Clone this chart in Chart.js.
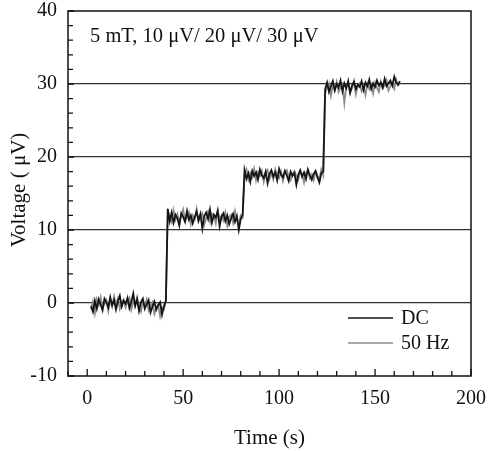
<!DOCTYPE html>
<html>
<head>
<meta charset="utf-8">
<script src="https://cdn.jsdelivr.net/npm/chart.js@4.4.0/dist/chart.umd.min.js"></script>
<style>
  html, body { margin: 0; padding: 0; background: #fff; }
  #wrap { width: 488px; height: 451px; }
</style>
</head>
<body>
<div id="wrap"><canvas id="stepChart"></canvas></div>
<script>
// sampling: one reading per second, starting at t = 2 s
const T_START = 2;
const T_STEP = 1;

// DC excitation trace (uV)
const dcValues = [
    -0.4, -1.2, 0.3, -0.8, 0.5, -0.2, -1.0, 0.6, 0.1, -0.6,
    0.8, -0.3, 0.4, -0.9, 0.2, 1.0, -0.5, 0.3, -0.1, 0.7,
    -0.7, 0.2, 1.3, -0.4, 0.5, -1.1, 0.1, 0.6, -0.8, -0.2,
    0.4, -1.3, -0.5, 0.2, -0.9, -0.3, 0.1, -1.6, -0.4, 0.3,
    12.9, 11.2, 12.4, 11.0, 12.1, 11.6, 10.6, 12.3, 11.8, 11.1,
    12.6, 11.4, 12.0, 10.9, 11.7, 12.5, 11.3, 12.2, 10.2, 11.9,
    12.4, 11.5, 12.8, 11.0, 12.1, 11.7, 12.6, 10.5, 11.8, 12.3,
    11.2, 12.0, 10.8, 11.6, 12.2, 11.1, 11.9, 10.0, 11.5, 12.1,
    18.2, 17.0, 17.8, 16.6, 18.1, 17.4, 17.9, 16.9, 18.3, 17.5,
    17.1, 18.0, 16.4, 17.7, 18.2, 17.3, 17.9, 16.8, 18.4, 17.6,
    17.2, 18.1, 17.5, 16.7, 18.0, 17.4, 17.8, 16.2, 17.6, 18.2,
    17.3, 17.9, 17.0, 18.3, 17.5, 16.9, 17.7, 18.1, 17.2, 16.5,
    17.8, 18.0,
    29.3, 30.2, 28.9, 29.7, 30.4, 29.1, 30.0, 29.5, 30.5, 29.0,
    30.1, 29.4, 30.4, 28.8, 29.8, 30.3, 29.3, 29.9, 29.6, 30.4,
    29.2, 30.2, 29.7, 30.6, 29.3, 30.1, 29.6, 30.5, 29.8, 30.2,
    29.5, 30.7, 29.7, 30.1, 30.5, 29.8, 31.0, 30.2, 29.9, 30.4
];

// 50 Hz excitation trace (uV)
const acValues = [
    -0.9, 0.2, -1.4, 0.5, -0.3, 0.8, -0.7, -0.1, 0.4, -1.1,
    0.3, -0.5, 0.9, -0.2, 0.6, -0.8, 0.1, 0.5, -0.6, 0.2,
    0.7, -0.9, 0.3, -0.4, 0.8, -0.6, -1.2, 0.2, -0.3, 0.5,
    -1.0, -0.4, 0.1, -1.5, -0.7, -0.2, -1.8, -0.6, -0.9, 0.2,
    12.5, 11.8, 11.1, 12.7, 11.4, 12.2, 11.0, 11.9, 12.8, 11.3,
    11.7, 12.4, 10.8, 12.0, 11.5, 12.9, 11.2, 11.8, 12.3, 10.7,
    11.6, 12.5, 11.1, 12.2, 11.9, 10.9, 12.7, 11.4, 12.0, 11.3,
    12.4, 10.6, 11.8, 12.1, 11.0, 12.6, 11.4, 10.9, 12.0, 11.7,
    17.6, 18.3, 16.9, 17.8, 17.2, 18.4, 16.8, 17.9, 17.4, 18.1,
    16.6, 17.7, 18.2, 17.0, 17.8, 16.9, 18.3, 17.5, 17.1, 18.0,
    16.7, 17.9, 18.2, 17.3, 16.8, 17.7, 18.1, 17.4, 16.9, 18.0,
    17.6, 16.5, 17.8, 18.2, 17.1, 17.6, 16.8, 18.0, 17.4, 17.0,
    18.3, 17.5,
    28.7, 29.6, 30.1, 28.4, 29.9, 29.2, 30.3, 28.9, 29.5, 30.0,
    27.4, 29.7, 30.2, 28.8, 29.4, 30.4, 28.6, 29.8, 30.1, 29.0,
    29.6, 28.5, 30.0, 29.3, 29.9, 28.7, 30.2, 29.5, 28.9, 30.3,
    29.4, 29.8, 30.5, 29.1, 29.7, 30.0, 29.3, 30.6, 29.8, 30.1
];

const seriesNames = ['DC', '50 Hz'];
const xLabelTicks = [0, 50, 100, 150, 200];
const yLabelTicks = [-10, 0, 10, 20, 30, 40];
const yGridLevels = [0, 10, 20, 30];
const noteText = '5 mT, 10 \u03bcV/ 20 \u03bcV/ 30 \u03bcV';

const SERIF = '"Liberation Serif", "DejaVu Serif", serif';
const DC_COLOR = '#151515';
const AC_COLOR = '#8c8c8c';

function toPoints(values) {
    return values.map(function (v, i) { return { x: T_START + i * T_STEP, y: v }; });
}

// frame, inward ticks, note, legend and y title
const framePlugin = {
    id: 'framePlugin',
    afterDraw: function (chart) {
        const ctx = chart.ctx;
        const a = chart.chartArea;
        const xs = chart.scales.x;
        const ys = chart.scales.y;
        ctx.save();
        ctx.strokeStyle = '#111';
        ctx.lineWidth = 1.5;
        ctx.strokeRect(a.left, a.top, a.right - a.left, a.bottom - a.top);

        ctx.lineWidth = 1.3;
        ctx.beginPath();
        for (let v = -10; v <= 200; v += 10) {
            const px = xs.getPixelForValue(v);
            const len = (v % 50 === 0) ? 7 : 5;
            ctx.moveTo(px, a.bottom);
            ctx.lineTo(px, a.bottom - len);
        }
        for (let v = -10; v <= 40; v += 2) {
            const py = ys.getPixelForValue(v);
            const len = (v % 10 === 0) ? 6 : 5;
            ctx.moveTo(a.left, py);
            ctx.lineTo(a.left + len, py);
        }
        ctx.stroke();

        // note in the top-left corner
        ctx.fillStyle = '#111';
        ctx.font = '20.5px ' + SERIF;
        ctx.textAlign = 'left';
        ctx.textBaseline = 'middle';
        ctx.fillText(noteText, a.left + 22, a.top + 26);

        // legend in the bottom-right corner
        const colors = [DC_COLOR, AC_COLOR];
        ctx.font = '20px ' + SERIF;
        seriesNames.forEach(function (name, i) {
            const y = a.bottom - 58 + i * 25;
            ctx.strokeStyle = colors[i];
            ctx.lineWidth = 1.5;
            ctx.beginPath();
            ctx.moveTo(a.right - 123, y);
            ctx.lineTo(a.right - 78, y);
            ctx.stroke();
            ctx.fillText(name, a.right - 70, y + 1);
        });

        // y axis title
        ctx.translate(19, 190);
        ctx.rotate(-Math.PI / 2);
        ctx.textAlign = 'center';
        ctx.font = '21px ' + SERIF;
        ctx.fillText('Voltage ( \u03bcV)', 0, 0);
        ctx.restore();
    }
};

const ctx = document.getElementById('stepChart').getContext('2d');
new Chart(ctx, {
    type: 'line',
    data: {
        datasets: [
            {
                label: seriesNames[0],
                data: toPoints(dcValues),
                borderColor: DC_COLOR,
                borderWidth: 1.8,
                order: 1
            },
            {
                label: seriesNames[1],
                data: toPoints(acValues),
                borderColor: AC_COLOR,
                borderWidth: 1.8,
                order: 2
            }
        ]
    },
    options: {
        responsive: true,
        maintainAspectRatio: false,
        animation: false,
        layout: { padding: { left: 0, right: 17, top: 11, bottom: 0 } },
        elements: {
            point: { radius: 0 },
            line: { tension: 0 }
        },
        plugins: {
            legend: { display: false },
            tooltip: { enabled: false }
        },
        scales: {
            x: {
                type: 'linear',
                min: -10,
                max: 200,
                afterBuildTicks: function (scale) {
                    scale.ticks = xLabelTicks.map(function (v) { return { value: v }; });
                },
                afterFit: function (scale) {
                    scale.height = 75;
                    scale.paddingLeft = 0;
                    scale.paddingRight = 0;
                },
                grid: { display: false, drawTicks: false },
                border: { display: false },
                ticks: {
                    color: '#111',
                    padding: 11,
                    maxRotation: 0,
                    font: { family: SERIF, size: 20 }
                },
                title: {
                    display: true,
                    text: 'Time (s)',
                    color: '#111',
                    padding: { top: 0, bottom: 0 },
                    font: { family: SERIF, size: 21 }
                }
            },
            y: {
                min: -10,
                max: 40,
                afterBuildTicks: function (scale) {
                    scale.ticks = yLabelTicks.map(function (v) { return { value: v }; });
                },
                afterFit: function (scale) {
                    scale.width = 68;
                    scale.paddingTop = 0;
                    scale.paddingBottom = 0;
                },
                grid: {
                    drawTicks: false,
                    color: function (c) {
                        return yGridLevels.indexOf(c.tick.value) >= 0 ? '#333' : 'rgba(0,0,0,0)';
                    },
                    lineWidth: 1.2
                },
                border: { display: false },
                ticks: {
                    color: '#111',
                    padding: 11,
                    font: { family: SERIF, size: 20 }
                }
            }
        }
    },
    plugins: [framePlugin]
});
</script>
</body>
</html>
